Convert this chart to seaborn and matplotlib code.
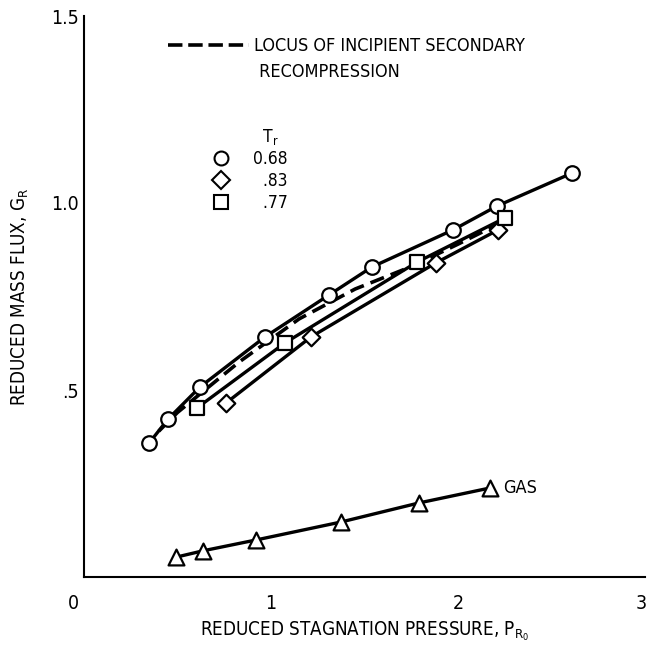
import matplotlib
matplotlib.use("Agg")
import matplotlib.pyplot as plt
import matplotlib.transforms as mtransforms
import seaborn as sns
from matplotlib.lines import Line2D

# ---- data ----
pr_068 = [0.348, 0.449, 0.620, 0.968, 1.310, 1.540, 1.973, 2.209, 2.610]
gr_068 = [0.358, 0.422, 0.508, 0.642, 0.754, 0.829, 0.928, 0.992, 1.080]
pr_083 = [0.759, 1.214, 1.882, 2.214]
gr_083 = [0.465, 0.642, 0.840, 0.928]
pr_077 = [0.604, 1.075, 1.781, 2.251]
gr_077 = [0.452, 0.626, 0.842, 0.960]
pr_gas = [0.492, 0.636, 0.920, 1.374, 1.791, 2.171]
gr_gas = [0.053, 0.070, 0.099, 0.147, 0.198, 0.238]
pr_locus = [0.40, 0.50, 0.83, 1.15, 1.45, 1.75, 2.00, 2.20]
gr_locus = [0.39, 0.44, 0.575, 0.69, 0.77, 0.83, 0.89, 0.94]

x_ticks = [0, 1, 2, 3]
x_ticklabels = ["0", "1", "2", "3"]
y_ticks = [0.5, 1.0, 1.5]
y_ticklabels = [".5", "1.0", "1.5"]
tr_labels = ["0.68", "\u2007.83", "\u2007.77"]
tr_title = r"$\mathregular{T_r}$"
locus_label = ["LOCUS OF INCIPIENT SECONDARY", " RECOMPRESSION"]

sns.set_theme(style="white")
plt.rcParams['font.family'] = ['DejaVu Sans']
plt.rcParams['font.stretch'] = 'condensed'
plt.rcParams['text.color'] = 'black'
plt.rcParams['axes.labelcolor'] = 'black'

fig = plt.figure(figsize=(6.49, 6.46), dpi=100)
ax = fig.add_axes([84 / 649, 69 / 646, 561 / 649, 561 / 646])

LW = 2.4
# curves
sns.lineplot(x=pr_locus, y=gr_locus, ax=ax, color='black', linewidth=2.6,
             linestyle=(0, (4, 2)), errorbar=None, zorder=2)
for xs, ys in [(pr_068, gr_068), (pr_083, gr_083), (pr_077, gr_077), (pr_gas, gr_gas)]:
    sns.lineplot(x=xs, y=ys, ax=ax, color='black', linewidth=LW, errorbar=None, zorder=3)

# markers
mk = dict(facecolor='white', edgecolor='black', linewidth=1.6, zorder=5, legend=False)
sns.scatterplot(x=pr_068, y=gr_068, ax=ax, marker='o', s=110, **mk)
sns.scatterplot(x=pr_083, y=gr_083, ax=ax, marker='D', s=80, **mk)
sns.scatterplot(x=pr_077, y=gr_077, ax=ax, marker='s', s=100, **mk)
sns.scatterplot(x=pr_gas, y=gr_gas, ax=ax, marker='^', s=130, **mk)

ax.text(pr_gas[-1] + 0.07, gr_gas[-1], "GAS", fontsize=13, va='center', ha='left')

ax.set_xlim(0, 3)
ax.set_ylim(0, 1.5)
ax.set_xticks(x_ticks)
ax.set_xticklabels(x_ticklabels)
ax.set_yticks(y_ticks)
ax.set_yticklabels(y_ticklabels)
ax.tick_params(axis='both', direction='in', length=19, width=1.3, colors='black', labelsize=14)
ax.tick_params(axis='x', pad=12)
ax.tick_params(axis='y', pad=4)
for s in ['top', 'right']:
    ax.spines[s].set_visible(False)
for s in ['left', 'bottom']:
    ax.spines[s].set_color('black')
    ax.spines[s].set_linewidth(1.5)

# nudge first / last x tick labels like the reference
xlabs = ax.get_xticklabels()
xlabs[0].set_transform(xlabs[0].get_transform() + mtransforms.ScaledTranslation(-0.11, 0, fig.dpi_scale_trans))
xlabs[-1].set_transform(xlabs[-1].get_transform() + mtransforms.ScaledTranslation(-0.04, 0, fig.dpi_scale_trans))

ax.set_xlabel(r"REDUCED STAGNATION PRESSURE, $\mathregular{P_{R_0}}$", fontsize=13.5, labelpad=5)
ax.set_ylabel(r"REDUCED MASS FLUX, $\mathregular{G_R}$", fontsize=13.5, labelpad=14)

# legend for Tr
hkw = dict(color='none', markerfacecolor='white', markeredgecolor='black', markeredgewidth=1.5)
h_tr = [Line2D([], [], color='none'),
        Line2D([], [], marker='o', markersize=10, **hkw),
        Line2D([], [], marker='D', markersize=9, **hkw),
        Line2D([], [], marker='s', markersize=10, **hkw)]
leg1 = ax.legend(h_tr, ["\u2007" + tr_title] + tr_labels, loc='upper left',
                 bbox_to_anchor=(0.226, 0.803), frameon=False, fontsize=12.5,
                 handlelength=1.2, handletextpad=1.25, labelspacing=0.22, borderpad=0,
                 borderaxespad=0)
ax.add_artist(leg1)

h_lo = [Line2D([], [], color='black', linewidth=2.6, linestyle=(0, (4, 1.6))),
        Line2D([], [], color='none')]
ax.legend(h_lo, locus_label, loc='upper left', bbox_to_anchor=(0.15, 0.962),
          frameon=False, fontsize=13, handlelength=4.5, handletextpad=0.25,
          labelspacing=0.4, borderpad=0, borderaxespad=0)

fig.savefig("out.png", dpi=100)
